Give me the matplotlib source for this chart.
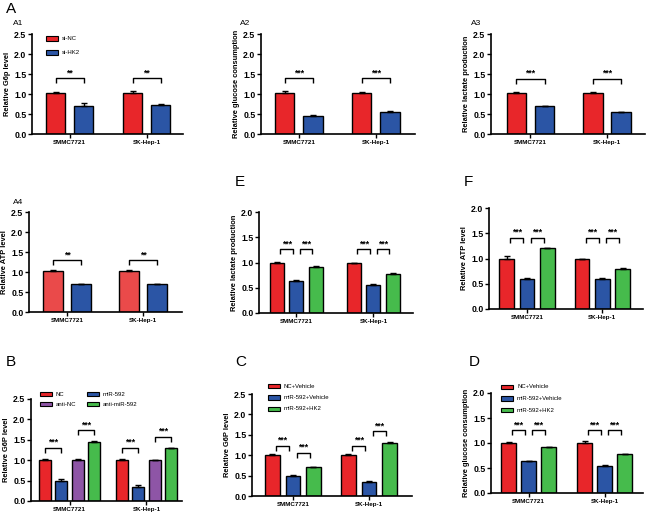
import matplotlib
matplotlib.use("Agg")
import matplotlib.pyplot as plt
from matplotlib.patches import Rectangle

plt.rcParams['font.family'] = ['Liberation Sans', 'DejaVu Sans']

W, H = 648, 512

groups = ['SMMC7721', 'SK-Hep-1']

# ---- data ----
a1_sinc = [1.03, 1.03]; a1_sinc_err = [0.02, 0.05]
a1_sihk2 = [0.70, 0.73]; a1_sihk2_err = [0.07, 0.02]

a2_sinc = [1.03, 1.03]; a2_sinc_err = [0.05, 0.02]
a2_sihk2 = [0.45, 0.55]; a2_sihk2_err = [0.03, 0.03]

a3_sinc = [1.03, 1.03]; a3_sinc_err = [0.02, 0.02]
a3_sihk2 = [0.70, 0.55]; a3_sihk2_err = [0.01, 0.01]

a4_sinc = [1.03, 1.03]; a4_sinc_err = [0.02, 0.02]
a4_sihk2 = [0.70, 0.70]; a4_sihk2_err = [0.01, 0.01]

e_nc = [1.00, 1.00]; e_nc_err = [0.01, 0.0]
e_mir = [0.64, 0.55]; e_mir_err = [0.02, 0.02]
e_hk2 = [0.92, 0.78]; e_hk2_err = [0.01, 0.01]

f_nc = [1.00, 1.00]; f_nc_err = [0.04, 0.0]
f_mir = [0.60, 0.60]; f_mir_err = [0.01, 0.01]
f_hk2 = [1.20, 0.80]; f_hk2_err = [0.01, 0.02]

b_nc = [1.00, 1.00]; b_nc_err = [0.04, 0.02]
b_mir = [0.50, 0.35]; b_mir_err = [0.05, 0.04]
b_antinc = [1.00, 1.00]; b_antinc_err = [0.03, 0.01]
b_antimir = [1.45, 1.30]; b_antimir_err = [0.03, 0.01]

c_nc = [1.00, 1.00]; c_nc_err = [0.04, 0.02]
c_mir = [0.50, 0.35]; c_mir_err = [0.01, 0.01]
c_hk2 = [0.70, 1.30]; c_hk2_err = [0.02, 0.02]

d_nc = [1.00, 1.00]; d_nc_err = [0.02, 0.05]
d_mir = [0.64, 0.55]; d_mir_err = [0.01, 0.02]
d_hk2 = [0.92, 0.78]; d_hk2_err = [0.01, 0.01]

# brackets: (group, bar_i, bar_j, height, label)
a1_sig = [(0, 0, 1, 1.40, '**'), (1, 0, 1, 1.40, '**')]
a2_sig = [(0, 0, 1, 1.40, '***'), (1, 0, 1, 1.40, '***')]
a3_sig = [(0, 0, 1, 1.38, '***'), (1, 0, 1, 1.38, '***')]
a4_sig = [(0, 0, 1, 1.30, '**'), (1, 0, 1, 1.30, '**')]
e_sig = [(0, 0, 1, 1.27, '***'), (0, 1, 2, 1.27, '***'), (1, 0, 1, 1.27, '***'), (1, 1, 2, 1.27, '***')]
f_sig = [(0, 0, 1, 1.41, '***'), (0, 1, 2, 1.41, '***'), (1, 0, 1, 1.41, '***'), (1, 1, 2, 1.41, '***')]
b_sig = [(0, 0, 1, 1.31, '***'), (0, 2, 3, 1.74, '***'), (1, 0, 1, 1.31, '***'), (1, 2, 3, 1.58, '***')]
c_sig = [(0, 0, 1, 1.23, '***'), (0, 1, 2, 1.06, '***'), (1, 0, 1, 1.23, '***'), (1, 1, 2, 1.59, '***')]
d_sig = [(0, 0, 1, 1.26, '***'), (0, 1, 2, 1.26, '***'), (1, 0, 1, 1.26, '***'), (1, 1, 2, 1.26, '***')]

RED = '#e8262a'
RED_L = '#ea4a4a'
BLUE = '#2b55a5'
GREEN = '#46bb4c'
PURPLE = '#8e55a6'

fig = plt.figure(figsize=(W / 100, H / 100), dpi=100)


def rect(x0, y0, x1, y1):
    return [x0 / W, 1 - y1 / H, (x1 - x0) / W, (y1 - y0) / H]


def panel(box, series, errs, colors, ymax, sig, w, G, L, R, ylabel, inset=0.0):
    ax = fig.add_axes(rect(*box))
    n = len(series)
    offs = [i - (n - 1) / 2 for i in range(n)]
    for i in range(n):
        xs = [g * G + offs[i] for g in range(len(groups))]
        ax.bar(xs, series[i], width=w, color=colors[i], edgecolor='black',
               linewidth=1.0, zorder=2)
        ax.errorbar(xs, series[i], yerr=[[0] * len(xs), errs[i]], fmt='none',
                    ecolor='black', elinewidth=1.0, capsize=2.2, capthick=1.0, zorder=3)
    hleg = ymax * 0.05
    for g, i, j, y, lab in sig:
        x1 = g * G + offs[i] + inset
        x2 = g * G + offs[j] - inset
        ax.plot([x1, x1, x2, x2], [y - hleg, y, y, y - hleg], color='black',
                lw=1.0, solid_capstyle='butt', zorder=3)
        ax.text((x1 + x2) / 2, y + ymax * 0.008, lab, ha='center', va='bottom',
                fontsize=6.3, fontweight='bold')
    ax.set_xlim(offs[0] - w / 2 - L, G + offs[-1] + w / 2 + R)
    ax.set_ylim(0, ymax)
    ticks = [k * 0.5 for k in range(int(round(ymax / 0.5)) + 1)]
    ax.set_yticks(ticks)
    ax.set_yticklabels(['%.1f' % t for t in ticks], fontsize=6.3, fontweight='bold')
    ax.set_xticks([g * G for g in range(len(groups))])
    ax.set_xticklabels(groups, fontsize=4.5, fontweight='bold')
    for s in ['top', 'right']:
        ax.spines[s].set_visible(False)
    for s in ['left', 'bottom']:
        ax.spines[s].set_linewidth(1.2)
    ax.tick_params(axis='both', direction='out', length=3, width=1.0, pad=1)
    ax.set_ylabel(ylabel, fontsize=5.4, fontweight='bold', labelpad=2)
    return ax


def legend(items, x, y, dy, tw=12, th=4.5, tx=4):
    for k, (lab, col) in enumerate(items):
        yy = y + k * dy
        fig.patches.append(Rectangle((x / W, 1 - (yy + th / 2) / H), tw / W, th / H,
                                     transform=fig.transFigure, facecolor=col,
                                     edgecolor='black', linewidth=0.8))
        fig.text((x + tw + tx) / W, 1 - yy / H, lab, fontsize=4.3, va='center', ha='left')


panel((32, 34, 183, 134), [a1_sinc, a1_sihk2], [a1_sinc_err, a1_sihk2_err], [RED, BLUE],
      2.5, a1_sig, 0.68, 2.75, 0.5, 0.46, 'Relative G6p level')
panel((261, 34, 415, 134), [a2_sinc, a2_sihk2], [a2_sinc_err, a2_sihk2_err], [RED, BLUE],
      2.5, a2_sig, 0.68, 2.7, 0.49, 0.53, 'Relative glucose consumption')
panel((491, 34, 645, 134), [a3_sinc, a3_sihk2], [a3_sinc_err, a3_sihk2_err], [RED, BLUE],
      2.5, a3_sig, 0.7, 2.71, 0.55, 0.5, 'Relative lactate production')
panel((29, 212, 182, 312), [a4_sinc, a4_sihk2], [a4_sinc_err, a4_sihk2_err], [RED_L, BLUE],
      2.5, a4_sig, 0.7, 2.7, 0.5, 0.54, 'Relative ATP level')
panel((259, 212, 413, 313), [e_nc, e_mir, e_hk2], [e_nc_err, e_mir_err, e_hk2_err],
      [RED, BLUE, GREEN], 2.0, e_sig, 0.72, 3.95, 0.56, 0.67, 'Relative lactate production', 0.18)
panel((489, 208, 643, 309), [f_nc, f_mir, f_hk2], [f_nc_err, f_mir_err, f_hk2_err],
      [RED, BLUE, GREEN], 2.0, f_sig, 0.73, 3.7, 0.5, 0.63, 'Relative ATP level', 0.18)
panel((31, 399, 182, 501), [b_nc, b_mir, b_antinc, b_antimir],
      [b_nc_err, b_mir_err, b_antinc_err, b_antimir_err],
      [RED, BLUE, PURPLE, GREEN], 2.5, b_sig, 0.74, 4.7, 0.49, 0.3, 'Relative G6P level')
panel((252, 394, 412, 496), [c_nc, c_mir, c_hk2], [c_nc_err, c_mir_err, c_hk2_err],
      [RED, BLUE, GREEN], 2.5, c_sig, 0.71, 3.7, 0.63, 0.73, 'Relative G6P level', 0.18)
panel((491, 393, 643, 493), [d_nc, d_mir, d_hk2], [d_nc_err, d_mir_err, d_hk2_err],
      [RED, BLUE, GREEN], 2.0, d_sig, 0.75, 3.8, 0.5, 0.55, 'Relative glucose consumption', 0.18)

legend([('si-NC', RED), ('si-HK2', BLUE)], 46, 38.5, 14)
legend([('NC', RED), ('anti-NC', PURPLE)], 40, 394, 10)
legend([('miR-592', BLUE), ('anti-miR-592', GREEN)], 87, 394, 10)
legend([('NC+Vehicle', RED), ('miR-592+Vehicle', BLUE), ('miR-592+HK2', GREEN)], 268, 386, 11.5)
legend([('NC+Vehicle', RED), ('miR-592+Vehicle', BLUE), ('miR-592+HK2', GREEN)], 501, 387, 11.5)


# panel letters
def letter(s, x, y, fs):
    fig.text(x / W, 1 - y / H, s, fontsize=fs, ha='left', va='center')


letter('A', 6, 9, 11)
letter('A1', 13, 23.5, 6)
letter('A2', 240, 23.5, 6)
letter('A3', 471, 23.5, 6)
letter('A4', 13, 202, 6)
letter('E', 235, 182, 11)
letter('F', 464, 182, 11)
letter('B', 6, 362, 11)
letter('C', 235, 362, 11)
letter('D', 469, 362, 11)

fig.savefig('out.png', dpi=100)
